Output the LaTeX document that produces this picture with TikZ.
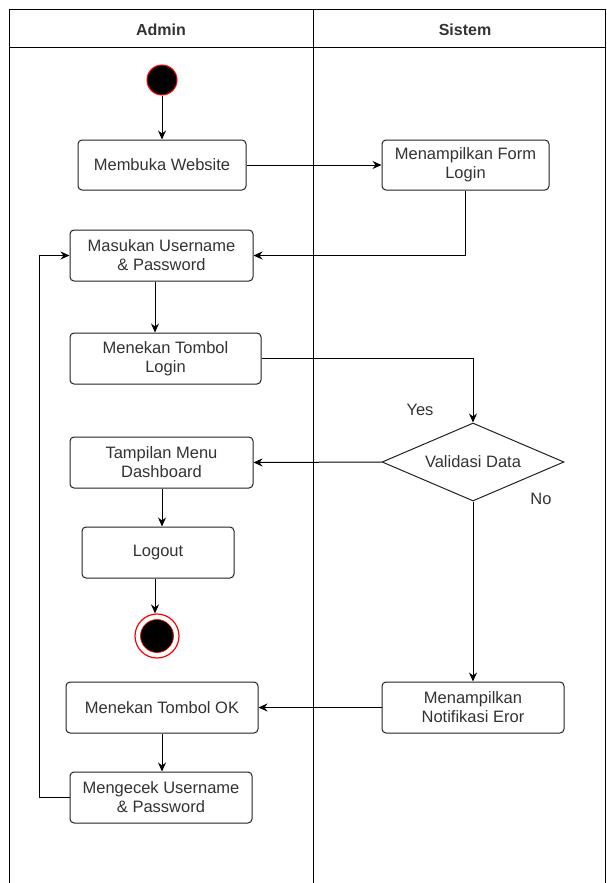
\documentclass[tikz,border=0pt]{standalone}
\usepackage{fontspec}
\setmainfont{Liberation Sans}
\usetikzlibrary{arrows.meta,shapes.geometric}
\definecolor{txt}{HTML}{333333}
\definecolor{edge}{HTML}{222222}
\begin{document}
\begin{tikzpicture}[x=1pt,y=-1pt,
  body/.style={font=\fontsize{16.5}{19}\selectfont,text=txt},
  act/.style={body,draw=edge,line width=1pt,rounded corners=4pt,fill=white,
    align=center,inner sep=0pt},
  flow/.style={draw=black,line width=1pt,-{Stealth[length=9pt,width=8pt]}},
  lane/.style={draw=black,line width=1pt}]
\useasboundingbox (0,0) rectangle (606,883);
% swimlanes
\draw[lane] (9,883) -- (9,10) -- (605,10) -- (605,883);
\draw[lane] (313,10) -- (313,883);
\draw[lane] (9,48) -- (605,48);
\node[font=\bfseries\fontsize{16}{18}\selectfont,text=txt] (hA) at (161,30) {Admin};
\node[font=\bfseries\fontsize{16}{18}\selectfont,text=txt] (hS) at (465,30) {Sistem};
% start
\node[circle,fill=black,draw=red,line width=1pt,minimum size=30pt,inner sep=0pt] (start) at (162,80) {};
% activities
\node[act,minimum width=168pt,minimum height=50pt] (web) at (162,165) {Membuka Website};
\node[act,minimum width=167pt,minimum height=50pt] (form) at (465.5,165) {Menampilkan Form\\Login};
\node[act,minimum width=183pt,minimum height=51pt] (user) at (161.5,255.5) {Masukan Username\\\& Password};
\node[act,minimum width=191pt,minimum height=51pt] (login) at (165.5,358.5) {Menekan Tombol\\Login};
\node[diamond,draw=edge,line width=1pt,fill=white,
  minimum width=182pt,minimum height=78pt,inner sep=0pt,
  label={[body]center:Validasi Data}] (valid) at (473,462) {};
\node[act,minimum width=183pt,minimum height=51pt] (dash) at (161.5,462.5) {Tampilan Menu\\Dashboard};
\node[act,minimum width=152pt,minimum height=51pt] (logout) at (158,552.5) {Logout};
\node[circle,fill=white,draw=red,line width=1.2pt,minimum size=44pt,inner sep=0pt] (endo) at (157,636) {};
\node[circle,fill=black,draw=red,line width=0.6pt,minimum size=33pt,inner sep=0pt] (endi) at (157,636) {};
\node[act,minimum width=182pt,minimum height=51pt] (notif) at (473,707.5) {Menampilkan\\Notifikasi Eror};
\node[act,minimum width=192pt,minimum height=51pt] (ok) at (162,707.5) {Menekan Tombol OK};
\node[act,minimum width=182pt,minimum height=51pt] (cek) at (161,797.5) {Mengecek Username\\\& Password};
% branch labels
\node[body] (yes) at (420,410) {Yes};
\node[body] (no) at (541,499) {No};
% connectors
\draw[flow] (start) -- (web);
\draw[flow] (web) -- (form);
\draw[flow] (form.south) |- (user.east);
\draw[flow] (user.south -| 155,0) -- (login.north -| 155,0);
\draw[flow] (login.east) -| (valid.north);
\draw[flow] (valid.west) -- (dash.east);
\draw[flow] (dash.south -| 162,0) -- (logout.north -| 162,0);
\draw[flow] (logout.south -| 155,0) -- (endo.north -| 155,0);
\draw[flow] (valid.south) -- (notif.north);
\draw[flow] (notif.west) -- (ok.east);
\draw[flow] (ok.south -| 162,0) -- (cek.north -| 162,0);
\draw[flow] (cek.west) -- ++(-30,0) |- (user.west);
\end{tikzpicture}
\end{document}
